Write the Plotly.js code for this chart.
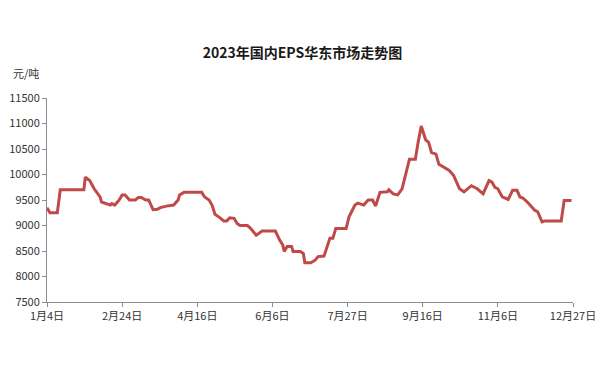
<!DOCTYPE html>
<html>
<head>
<meta charset="utf-8">
<script src="https://cdn.plot.ly/plotly-3.0.1.min.js"></script>
<style>html,body{margin:0;padding:0;background:#fff;}#chart{width:605px;height:383px;}</style>
</head>
<body>
<div id="chart"></div>
<script>
// Days since 2023-01-04 and price (元/吨)
const dayOffsets = [0,2,7,9,25,26,28,29,32,34,36,37,41,43,44,46,49,51,53,56,60,62,64,67,69,72,75,77,81,86,89,90,93,105,107,110,112,114,117,120,122,124,127,129,131,136,138,141,142,146,155,158,160,161,163,166,167,172,174,175,179,182,184,188,192,194,196,203,205,209,211,215,218,221,223,226,231,232,235,238,241,246,250,252,254,257,259,261,264,266,273,276,280,283,288,292,296,300,302,304,306,309,313,316,319,321,323,326,329,331,333,336,338,349,351,356];
const prices = [9350,9250,9250,9700,9700,9950,9900,9880,9720,9650,9560,9460,9430,9400,9430,9400,9500,9600,9600,9500,9500,9550,9550,9500,9500,9310,9320,9350,9380,9400,9500,9600,9650,9650,9560,9500,9400,9220,9160,9090,9090,9150,9140,9040,9000,9000,8950,8850,8810,8890,8890,8710,8620,8490,8590,8590,8490,8490,8450,8270,8270,8320,8390,8400,8750,8750,8940,8940,9170,9400,9440,9400,9500,9500,9380,9650,9660,9700,9620,9600,9720,10300,10300,10650,10950,10680,10630,10430,10400,10200,10080,9980,9720,9660,9780,9720,9620,9880,9850,9750,9720,9560,9510,9690,9690,9560,9540,9460,9360,9300,9270,9070,9090,9090,9490,9490];
const tickDates = ['2023-01-04','2023-02-24','2023-04-16','2023-06-06','2023-07-27','2023-09-16','2023-11-06','2023-12-27'];
const tickLabels = ['1月4日','2月24日','4月16日','6月6日','7月27日','9月16日','11月6日','12月27日'];
const yTicks = [7500,8000,8500,9000,9500,10000,10500,11000,11500];
const yTickLabels = ['7500','8000','8500','9000','9500','10000','10500','11000','11500'];

function toDate(d){
  const t = new Date(Date.UTC(2023,0,4+d));
  return t.toISOString().slice(0,10);
}
const xs = dayOffsets.map(toDate);

const font = "'Noto Sans CJK SC', 'Noto Sans', sans-serif";
Plotly.newPlot('chart', [{
  x: xs, y: prices, type: 'scatter', mode: 'lines',
  line: {color: '#bf4a47', width: 3},
  hoverinfo: 'skip'
}], {
  width: 605, height: 383,
  margin: {l: 46.7, r: 31.7, t: 97.7, b: 81.3},
  paper_bgcolor: '#fff', plot_bgcolor: '#fff',
  showlegend: false,
  title: {text: '<b>2023年国内EPS华东市场走势图</b>', x: 0.5, xanchor: 'center', y: 0.862, yanchor: 'middle',
          font: {family: font, size: 14, color: '#1a1a1a'}},
  xaxis: {
    type: 'date', range: ['2023-01-04','2023-12-27'],
    tickmode: 'array', tickvals: tickDates, ticktext: tickLabels,
    showgrid: false, zeroline: false, showline: true, linecolor: '#8c8c8c', linewidth: 1,
    ticks: 'outside', ticklen: 4, tickcolor: '#8c8c8c',
    tickfont: {family: font, size: 11, color: '#333'}
  },
  yaxis: {
    range: [7500, 11500], tickmode: 'array', tickvals: yTicks, ticktext: yTickLabels,
    showgrid: false, zeroline: false, showline: true, linecolor: '#8c8c8c', linewidth: 1,
    ticks: 'outside', ticklen: 4, tickcolor: '#8c8c8c',
    tickfont: {family: font, size: 11, color: '#333'}
  },
  annotations: [{
    text: '元/吨', xref: 'paper', yref: 'paper', x: -46.7/526.6 + 11/526.6, xanchor: 'left',
    y: (383-81.3-72.7)/204, yanchor: 'middle', showarrow: false,
    font: {family: font, size: 11, color: '#333'}
  }]
}, {displayModeBar: false, staticPlot: true});
</script>
</body>
</html>
